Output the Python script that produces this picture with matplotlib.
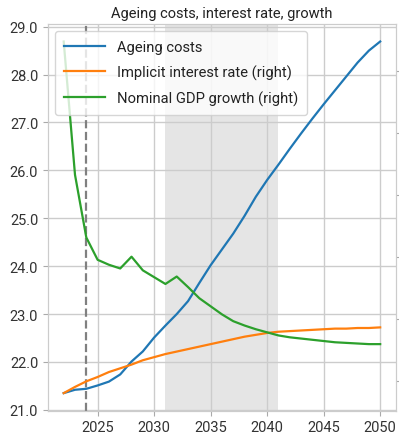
import matplotlib
matplotlib.use("Agg")
import matplotlib.pyplot as plt
import numpy as np

years = list(range(2022, 2051))

ageing_costs = [21.35, 21.42, 21.44, 21.51, 21.59, 21.74, 22.01, 22.22, 22.51, 22.76,
                23.00, 23.27, 23.65, 24.02, 24.35, 24.68, 25.05, 25.45, 25.80, 26.12,
                26.45, 26.77, 27.08, 27.38, 27.67, 27.96, 28.25, 28.50, 28.69]

interest_rate = [1.81, 1.91, 2.00, 2.07, 2.15, 2.21, 2.27, 2.34, 2.39, 2.44,
                 2.48, 2.52, 2.56, 2.60, 2.64, 2.68, 2.72, 2.75, 2.78, 2.80,
                 2.81, 2.82, 2.83, 2.84, 2.85, 2.85, 2.86, 2.86, 2.87]

gdp_growth = [7.48, 5.33, 4.32, 3.96, 3.88, 3.82, 4.01, 3.79, 3.68, 3.57,
              3.69, 3.52, 3.34, 3.21, 3.08, 2.97, 2.90, 2.84, 2.79, 2.74,
              2.71, 2.69, 2.67, 2.65, 2.63, 2.62, 2.61, 2.60, 2.60]

shade_start, shade_end = 2031, 2041
current_year = 2024

plt.rcParams['font.family'] = ['Roboto', 'DejaVu Sans']

fig = plt.figure(figsize=(3.99, 4.39), dpi=100)
ax = fig.add_axes([0.12, 0.0622, 0.8725, 0.881])
ax2 = ax.twinx()

ax.axvspan(shade_start, shade_end, color='#e5e5e5', zorder=0, lw=0)
ax.axvline(current_year, color='grey', ls='--', lw=1.6, zorder=1)

l1, = ax.plot(years, ageing_costs, color='#1f77b4', lw=1.6, label='Ageing costs', zorder=3)
l2, = ax2.plot(years, interest_rate, color='#ff7f0e', lw=1.6, label='Implicit interest rate (right)')
l3, = ax2.plot(years, gdp_growth, color='#2ca02c', lw=1.6, label='Nominal GDP growth (right)')

ax.set_yticks(np.arange(21, 29.5, 1.0))
ax.yaxis.set_major_formatter(matplotlib.ticker.FormatStrFormatter('%.1f'))
ax.set_xticks([2025, 2030, 2035, 2040, 2045, 2050])
ax.grid(True, color='#cccccc', lw=1.0, zorder=0)
ax.set_axisbelow(True)
ax2.set_yticks([2, 3, 4, 5, 6, 7])

for a in (ax, ax2):
    for s in a.spines.values():
        s.set_color('#cccccc')
    a.tick_params(colors='#333333', labelsize=10.5, length=3.5, color='#aaaaaa')
ax2.tick_params(labelright=False)

ax.set_title('Ageing costs, interest rate, growth', fontsize=10.5, color='#222222', pad=5)

leg = ax2.legend(handles=[l1, l2, l3], loc='upper left', fontsize=10.6, framealpha=0.8,
                 edgecolor='#cccccc', handlelength=2.8, labelspacing=0.72,
                 borderpad=0.6, bbox_to_anchor=(0.0, 1.0))
for t in leg.get_texts():
    t.set_color('#222222')

fig.savefig('out.png', dpi=100)
